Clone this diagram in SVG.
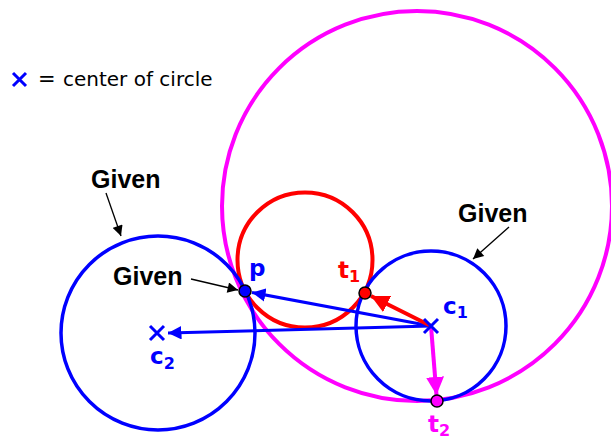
<svg xmlns="http://www.w3.org/2000/svg" width="611" height="439" viewBox="0 0 611 439">
<style>
.circ{fill:none}
.given{font-family:"Liberation Sans",Arial,sans-serif;font-weight:bold;font-size:25px;fill:#000}
.lbl{font-family:"DejaVu Sans","Liberation Sans",sans-serif;font-weight:bold;font-size:23px}
.sub{font-size:16px}
.cross{stroke:#0000ff;stroke-width:3;fill:none}
.pt{stroke:#000;stroke-width:1.5}
</style>
<defs>
<marker id="ahBlue" viewBox="0 0 10 10" refX="10" refY="5" markerWidth="4.5" markerHeight="4.5" orient="auto" markerUnits="strokeWidth">
<path d="M0,0 L10,5 L0,10 z" fill="#0000ff"/>
</marker>
<marker id="ahRed" viewBox="0 0 10 10" refX="10" refY="5" markerWidth="4.5" markerHeight="4.5" orient="auto" markerUnits="strokeWidth">
<path d="M0,0 L10,5 L0,10 z" fill="#ff0000"/>
</marker>
<marker id="ahMag" viewBox="0 0 10 10" refX="10" refY="5" markerWidth="4.5" markerHeight="4.5" orient="auto" markerUnits="strokeWidth">
<path d="M0,0 L10,5 L0,10 z" fill="#ff00ff"/>
</marker>
<marker id="ahBlack" viewBox="0 0 10 10" refX="10" refY="5" markerWidth="9" markerHeight="8" orient="auto" markerUnits="strokeWidth">
<path d="M0,0 L10,5 L0,10 z" fill="#000"/>
</marker>
</defs>

<g id="legend">
<path class="cross" stroke-width="4" d="M13,73 L26,86 M26,73 L13,86"/>
<text x="38" y="86" font-family="DejaVu Sans, sans-serif" font-size="21" fill="#000">=</text>
<text x="63" y="86" font-family="DejaVu Sans, sans-serif" font-size="20" fill="#000">center of circle</text>
</g>

<g id="circle-magenta"><circle class="circ" cx="417" cy="206" r="195" stroke="#ff00ff" stroke-width="4"/></g>
<g id="circle-red"><circle class="circ" cx="305" cy="260" r="67.5" stroke="#ff0000" stroke-width="4"/></g>
<g id="circle-c2"><circle class="circ" cx="158" cy="333" r="97" stroke="#0000ff" stroke-width="3.5"/></g>
<g id="circle-c1"><circle class="circ" cx="431" cy="326" r="75" stroke="#0000ff" stroke-width="3.5"/></g>

<g id="connectors">
<line x1="431" y1="326" x2="252" y2="292.5" stroke="#0000ff" stroke-width="3" marker-end="url(#ahBlue)"/>
<line x1="431" y1="326" x2="168" y2="333" stroke="#0000ff" stroke-width="3" marker-end="url(#ahBlue)"/>
<line x1="431" y1="326" x2="371" y2="296" stroke="#ff0000" stroke-width="4" marker-end="url(#ahRed)"/>
<line x1="431" y1="326" x2="436.5" y2="395" stroke="#ff00ff" stroke-width="4" marker-end="url(#ahMag)"/>
<line x1="106" y1="193" x2="121" y2="236" stroke="#000" stroke-width="1.3" marker-end="url(#ahBlack)"/>
<line x1="191" y1="279" x2="238" y2="290" stroke="#000" stroke-width="1.3" marker-end="url(#ahBlack)"/>
<line x1="509" y1="227" x2="473" y2="259" stroke="#000" stroke-width="1.3" marker-end="url(#ahBlack)"/>
</g>

<g id="c2"><path class="cross" d="M150,326 L164,340 M164,326 L150,340"/>
<text class="lbl" x="150" y="364" fill="#0000ff">c<tspan class="sub" dy="5">2</tspan></text></g>
<g id="c1"><path class="cross" d="M424,319 L438,333 M438,319 L424,333"/>
<text class="lbl" x="443" y="314" fill="#0000ff">c<tspan class="sub" dy="4">1</tspan></text></g>

<g id="p"><circle class="pt" cx="245" cy="291" r="6" fill="#0000ff"/>
<text class="lbl" x="249" y="276" fill="#0000ff">p</text></g>
<g id="t1"><circle class="pt" cx="365" cy="293" r="6" fill="#ff0000"/>
<text class="lbl" x="338" y="278" fill="#ff0000">t<tspan class="sub" dy="4">1</tspan></text></g>
<g id="t2"><circle class="pt" cx="437" cy="401" r="6" fill="#ff00ff"/>
<text class="lbl" x="428" y="432" fill="#ff00ff">t<tspan class="sub" dy="4">2</tspan></text></g>

<g id="given1"><text class="given" x="91" y="188">Given</text></g>
<g id="given2"><text class="given" x="113" y="285">Given</text></g>
<g id="given3"><text class="given" x="458" y="222">Given</text></g>
</svg>
